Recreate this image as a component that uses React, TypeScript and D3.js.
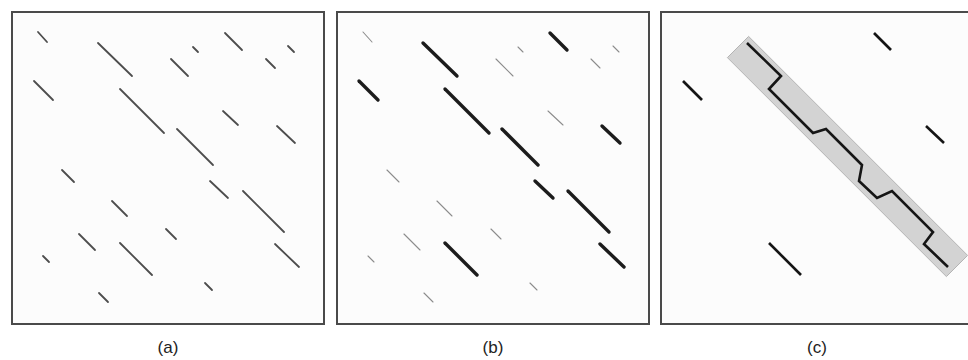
import React, { useRef, useEffect } from "react";
import * as d3 from "d3";

// segment end points, in panel units (0..312)
const x1 = [26, 86, 181, 213, 276, 159, 254, 22, 108, 211, 265, 165, 50, 198, 231, 100, 154, 67, 108, 263, 31, 193, 87];
const y1 = [20, 31, 35, 21, 34, 47, 47, 69, 77, 99, 114, 117, 158, 169, 179, 189, 217, 222, 231, 232, 244, 271, 281];
const x2 = [35, 120, 186, 230, 282, 176, 263, 41, 152, 226, 283, 201, 62, 216, 272, 115, 164, 83, 140, 287, 37, 200, 96];
const y2 = [30, 64, 40, 38, 40, 64, 56, 88, 121, 113, 131, 153, 170, 186, 220, 204, 227, 238, 263, 255, 250, 278, 290];

// 1 = strong match (thick in b), 0 = weak
const strong = [0, 1, 0, 1, 0, 0, 0, 1, 1, 0, 1, 1, 0, 1, 1, 0, 0, 0, 1, 1, 0, 0, 0];

// chain picked in (c), in order
const chain = [1, 8, 11, 13, 14, 19];

// band round the chain: centre line ends and half width
const bandStart = [77, 35];
const bandEnd = [296, 254];
const bandHalf = 15;

const labels = ["(a)", "(b)", "(c)"];
const panelLeft = [12, 337, 661];
const panelTop = 12;
const panelSize = 312;

export default function App() {
  const ref = useRef<SVGSVGElement>(null);

  useEffect(() => {
    const svg = d3.select(ref.current);
    svg.selectAll("*").remove();

    const x = d3.scaleLinear().domain([0, 312]).range([0, panelSize]);
    const y = d3.scaleLinear().domain([0, 312]).range([0, panelSize]);
    const idx = d3.range(x1.length);

    labels.forEach((lab, p) => {
      const g = svg.append("g").attr("transform", "translate(" + panelLeft[p] + "," + panelTop + ")");

      g.append("rect")
        .attr("width", panelSize)
        .attr("height", panelSize)
        .attr("fill", "#fcfcfc")
        .attr("stroke", "#4a4a4a")
        .attr("stroke-width", 2);

      if (p === 2) {
        // grey band
        const dx = x(bandEnd[0]) - x(bandStart[0]);
        const dy = y(bandEnd[1]) - y(bandStart[1]);
        const len = Math.sqrt(dx * dx + dy * dy);
        const nx = (-dy / len) * bandHalf;
        const ny = (dx / len) * bandHalf;
        const pts: [number, number][] = [
          [x(bandStart[0]) + nx, y(bandStart[1]) + ny],
          [x(bandStart[0]) - nx, y(bandStart[1]) - ny],
          [x(bandEnd[0]) - nx, y(bandEnd[1]) - ny],
          [x(bandEnd[0]) + nx, y(bandEnd[1]) + ny],
        ];
        g.append("polygon")
          .attr("points", pts.map((d) => d.join(",")).join(" "))
          .attr("fill", "#d3d3d3")
          .attr("stroke", "#b4b4b4")
          .attr("stroke-width", 1);

        const chainPts: [number, number][] = [];
        chain.forEach((i) => {
          chainPts.push([x(x1[i]), y(y1[i])]);
          chainPts.push([x(x2[i]), y(y2[i])]);
        });
        g.append("path")
          .attr("d", d3.line()(chainPts))
          .attr("fill", "none")
          .attr("stroke", "#151515")
          .attr("stroke-width", 2.6);

        const rest = idx.filter((i) => strong[i] === 1 && chain.indexOf(i) < 0);
        g.selectAll(".seg")
          .data(rest)
          .enter()
          .append("line")
          .attr("x1", (i) => x(x1[i]))
          .attr("y1", (i) => y(y1[i]))
          .attr("x2", (i) => x(x2[i]))
          .attr("y2", (i) => y(y2[i]))
          .attr("stroke", "#151515")
          .attr("stroke-width", 2.6);
      } else {
        g.selectAll(".seg")
          .data(idx)
          .enter()
          .append("line")
          .attr("x1", (i) => x(x1[i]))
          .attr("y1", (i) => y(y1[i]))
          .attr("x2", (i) => x(x2[i]))
          .attr("y2", (i) => y(y2[i]))
          .attr("stroke-linecap", "round")
          .attr("stroke", (i) => (p === 0 ? "#4d4d4d" : strong[i] ? "#1c1c1c" : "#8c8c8c"))
          .attr("stroke-width", (i) => (p === 0 ? 1.8 : strong[i] ? 3.4 : 1.1));
      }

      svg.append("text")
        .attr("x", panelLeft[p] + panelSize / 2)
        .attr("y", 353)
        .attr("text-anchor", "middle")
        .style("font-family", "'Liberation Sans', Arial, sans-serif")
        .style("font-size", "17px")
        .attr("fill", "#222")
        .text(lab);
    });
  }, []);

  return (
    <svg
      ref={ref}
      width={968}
      height={360}
      style={{ position: "absolute", left: 0, top: 0, background: "#fff" }}
    />
  );
}
